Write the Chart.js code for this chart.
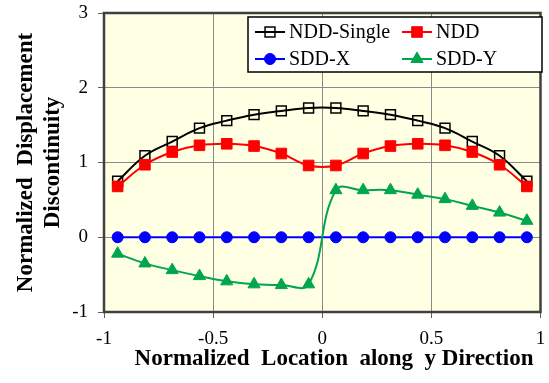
<!DOCTYPE html>
<html>
<head>
<meta charset="utf-8">
<script src="https://cdn.jsdelivr.net/npm/chart.js@4"></script>
<style>
  html, body { margin: 0; padding: 0; background: #fff; }
  #wrap { width: 549px; height: 383px; }
</style>
</head>
<body>
<div id="wrap"><canvas id="Chart" width="549" height="383"></canvas></div>
<script>
"use strict";

// node locations along the crack (normalized)
var locations = [-0.9375, -0.8125, -0.6875, -0.5625, -0.4375, -0.3125, -0.1875, -0.0625,
  0.0625, 0.1875, 0.3125, 0.4375, 0.5625, 0.6875, 0.8125, 0.9375];

var nddSingle = [0.75, 1.09, 1.28, 1.46, 1.56, 1.64, 1.69, 1.73, 1.73, 1.69, 1.64, 1.56, 1.46, 1.28, 1.09, 0.75];
var ndd = [0.68, 0.97, 1.14, 1.23, 1.25, 1.22, 1.12, 0.96, 0.96, 1.12, 1.22, 1.25, 1.23, 1.14, 0.97, 0.68];
var sddX = [0, 0, 0, 0, 0, 0, 0, 0, 0, 0, 0, 0, 0, 0, 0, 0];
var sddY = [-0.22, -0.35, -0.44, -0.52, -0.59, -0.63, -0.64, -0.63, 0.63, 0.63, 0.63, 0.57, 0.51, 0.42, 0.33, 0.22];

var xTicks = [-1, -0.5, 0, 0.5, 1];
var yTicks = [-1, 0, 1, 2, 3];

var FONT = "'Liberation Serif', 'Times New Roman', serif";

function toPoints(values) {
  return values.map(function (v, i) {
    return { x: locations[i], y: v };
  });
}

// plot background + frame + x title
var frame = {
  id: 'frame',
  beforeDraw: function (chart) {
    var a = chart.chartArea, ctx = chart.ctx;
    ctx.save();
    ctx.fillStyle = '#FFFFE3';
    ctx.fillRect(a.left, a.top, a.right - a.left, a.bottom - a.top);
    ctx.restore();
  },
  afterDatasetsDraw: function (chart) {
    var a = chart.chartArea, ctx = chart.ctx;
    ctx.save();
    ctx.strokeStyle = '#404040';
    ctx.lineWidth = 2.5;
    ctx.strokeRect(a.left, a.top, a.right - a.left, a.bottom - a.top);
    ctx.fillStyle = '#000';
    ctx.font = 'bold 23px ' + FONT;
    ctx.textAlign = 'center';
    ctx.textBaseline = 'middle';
    ctx.fillText('Normalized  Location  along  y Direction', 334, 359);
    ctx.restore();
  }
};

// legend box inside the plot, two columns
var boxLegend = {
  id: 'boxLegend',
  afterDraw: function (chart) {
    var ctx = chart.ctx;
    var x0 = 248, y0 = 17, w = 294, h = 55;
    ctx.save();
    ctx.fillStyle = '#fff';
    ctx.fillRect(x0, y0, w, h);
    ctx.strokeStyle = '#000';
    ctx.lineWidth = 1.5;
    ctx.strokeRect(x0, y0, w, h);
    ctx.font = '20px ' + FONT;
    ctx.textBaseline = 'middle';
    chart.data.datasets.forEach(function (ds, i) {
      var col = i % 2, row = Math.floor(i / 2);
      var lx = x0 + 7 + col * 147;
      var ly = y0 + 15 + row * 27;
      ctx.strokeStyle = ds.borderColor;
      ctx.lineWidth = 2;
      ctx.beginPath();
      ctx.moveTo(lx, ly);
      ctx.lineTo(lx + 30, ly);
      ctx.stroke();
      ctx.fillStyle = ds.pointBackgroundColor;
      ctx.strokeStyle = ds.pointBorderColor;
      ctx.lineWidth = ds.pointBorderWidth || 1.5;
      Chart.helpers.drawPoint(ctx, {
        pointStyle: ds.pointStyle,
        radius: ds.pointRadius,
        borderWidth: ds.pointBorderWidth || 1.5
      }, lx + 15, ly);
      ctx.fillStyle = '#000';
      ctx.textAlign = 'left';
      ctx.fillText(ds.label, lx + 34, ly + 1);
    });
    ctx.restore();
  }
};

var gridOpts = {
  color: '#8a8a8a',
  lineWidth: 1,
  borderDash: [3, 3],
  drawTicks: true,
  tickLength: 6,
  tickColor: '#606060',
  tickBorderDash: []
};

var ctx = document.getElementById('Chart').getContext('2d');
var chart = new Chart(ctx, {
  type: 'line',
  data: {
    datasets: [{
      label: 'NDD-Single',
      data: toPoints(nddSingle),
      borderColor: '#000000',
      borderWidth: 2,
      pointStyle: 'rect',
      pointRadius: 7,
      pointBorderWidth: 1.5,
      pointBackgroundColor: 'rgba(0,0,0,0)',
      pointBorderColor: '#000000',
      tension: 0.4,
      order: 4
    }, {
      label: 'NDD',
      data: toPoints(ndd),
      borderColor: '#FF0000',
      borderWidth: 2,
      pointStyle: 'rect',
      pointRadius: 7.5,
      pointBorderWidth: 1,
      pointBackgroundColor: '#FF0000',
      pointBorderColor: '#FF0000',
      tension: 0.4,
      order: 3
    }, {
      label: 'SDD-X',
      data: toPoints(sddX),
      borderColor: '#0000FF',
      borderWidth: 2,
      pointStyle: 'circle',
      pointRadius: 5.5,
      pointBorderWidth: 1,
      pointBackgroundColor: '#0000FF',
      pointBorderColor: '#0000FF',
      tension: 0.4,
      order: 2
    }, {
      label: 'SDD-Y',
      data: toPoints(sddY),
      borderColor: '#00A550',
      borderWidth: 2,
      pointStyle: 'triangle',
      pointRadius: 7,
      pointBorderWidth: 1,
      pointBackgroundColor: '#00A550',
      pointBorderColor: '#00A550',
      tension: 0.4,
      order: 1
    }]
  },
  options: {
    responsive: false,
    animation: false,
    events: [],
    layout: { padding: { top: 13, right: 3, left: 0, bottom: 0 } },
    plugins: {
      legend: { display: false },
      tooltip: { enabled: false }
    },
    scales: {
      x: {
        type: 'linear',
        min: -1,
        max: 1,
        afterBuildTicks: function (axis) {
          axis.ticks = xTicks.map(function (v) { return { value: v }; });
        },
        ticks: {
          color: '#000',
          font: { family: FONT, size: 19 },
          padding: 10,
          maxRotation: 0,
          callback: function (v) { return String(v); }
        },
        grid: gridOpts,
        border: { display: false },
        afterFit: function (axis) {
          axis.height = 71;
          axis.paddingLeft = 0;
          axis.paddingRight = 0;
        }
      },
      y: {
        type: 'linear',
        min: -1,
        max: 3,
        afterBuildTicks: function (axis) {
          axis.ticks = yTicks.map(function (v) { return { value: v }; });
        },
        ticks: {
          color: '#000',
          font: { family: FONT, size: 19 },
          padding: 10,
          callback: function (v) { return String(v); }
        },
        grid: gridOpts,
        border: { display: false },
        title: {
          display: true,
          text: ['Normalized  Displacement', 'Discontinuity'],
          color: '#000',
          font: { family: FONT, size: 23, weight: 'bold', lineHeight: 1.2 },
          padding: { top: 12, bottom: 0 }
        },
        afterFit: function (axis) {
          axis.width = 104;
          axis.paddingTop = 0;
          axis.paddingBottom = 0;
        }
      }
    }
  },
  plugins: [frame, boxLegend]
});
</script>
</body>
</html>
